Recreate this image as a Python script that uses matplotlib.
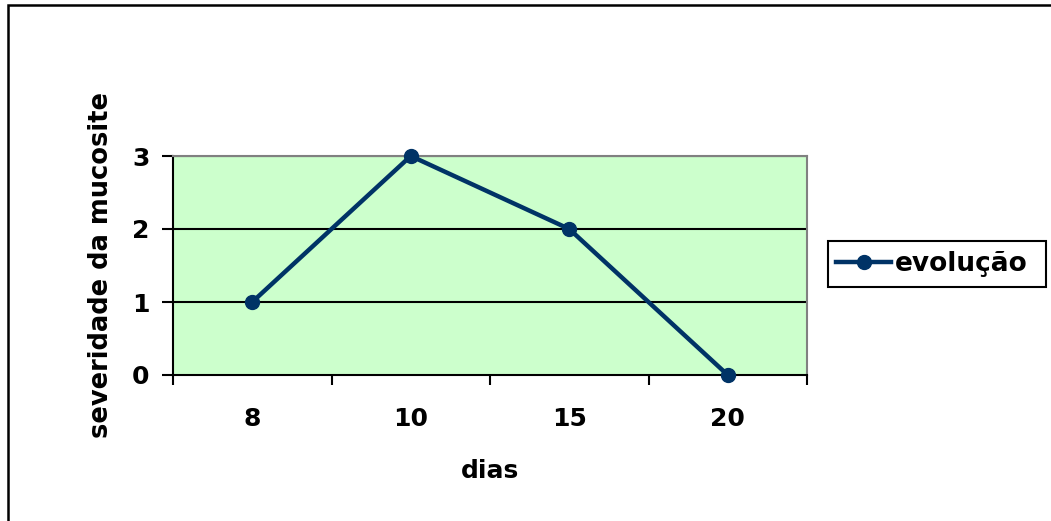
import matplotlib
matplotlib.use("Agg")
import matplotlib.pyplot as plt
from matplotlib.patches import Rectangle
import numpy as np

categories = ["8", "10", "15", "20"]
values = [1, 3, 2, 0]
y_ticks = [0, 1, 2, 3]
series_name = "evolução"
x_title = "dias"
y_title = "severidade da mucosite"

plt.rcParams['font.family'] = ['DejaVu Sans']

W, H = 1051, 521
fig = plt.figure(figsize=(W / 100, H / 100), dpi=100)

# outer chart border (right and bottom edges fall outside the canvas)
fig.patches.append(Rectangle((8 / W, -0.05), 1.2, 1 - 5 / H + 0.05, transform=fig.transFigure,
                             fill=False, edgecolor='black', linewidth=1.8))

ax = fig.add_axes([173 / W, 1 - 375 / H, (807 - 173) / W, (375 - 156) / H])
ax.set_facecolor('#CCFFCC')

x = np.arange(len(categories))
ax.set_xlim(-0.5, len(categories) - 0.5)
ax.set_ylim(0, 3)

for yv in y_ticks[1:]:
    ax.axhline(yv, color='black', linewidth=1.5, zorder=1)

line_color = '#003366'
line, = ax.plot(x, values, color=line_color, linewidth=3.2, marker='o', markersize=10,
                markerfacecolor=line_color, markeredgecolor=line_color, zorder=3,
                clip_on=False, label=series_name)

ax.set_yticks(y_ticks)
ax.set_yticklabels([str(v) for v in y_ticks], fontsize=18, fontweight='bold')
ax.set_xticks(np.arange(-0.5, len(categories), 1.0))
ax.set_xticklabels([])
ax.set_xticks(x, minor=True)
ax.set_xticklabels(categories, minor=True, fontsize=18, fontweight='bold')
ax.tick_params(axis='x', which='minor', length=0, pad=23)
ax.tick_params(axis='x', which='major', length=7, width=1.5, direction='out')
ax.tick_params(axis='y', length=8, width=1.5, direction='out', pad=9)

for s in ['left', 'bottom']:
    ax.spines[s].set_color('black')
    ax.spines[s].set_linewidth(1.5)
for s in ['top', 'right']:
    ax.spines[s].set_color('#808080')
    ax.spines[s].set_linewidth(1.5)

ax.set_xlabel(x_title, fontsize=18, fontweight='bold')
ax.xaxis.set_label_coords(0.5, (375 - 459) / 219)
ax.set_ylabel(y_title, fontsize=18.5, fontweight='bold')
ax.yaxis.set_label_coords((114 - 173) / 634, 0.5)

# legend box
fig.patches.append(Rectangle((828 / W, 1 - 287 / H), (1046 - 828) / W, (287 - 241) / H,
                             transform=fig.transFigure, fill=False, edgecolor='black',
                             linewidth=1.5))
leg = fig.legend(handles=[line], loc='center left',
                 bbox_to_anchor=(828 / W, 1 - 264 / H), frameon=False,
                 prop={'weight': 'bold', 'size': 19}, handlelength=2.1, handletextpad=0.15,
                 borderpad=0.3, borderaxespad=0)

fig.savefig('out.png', dpi=100)
